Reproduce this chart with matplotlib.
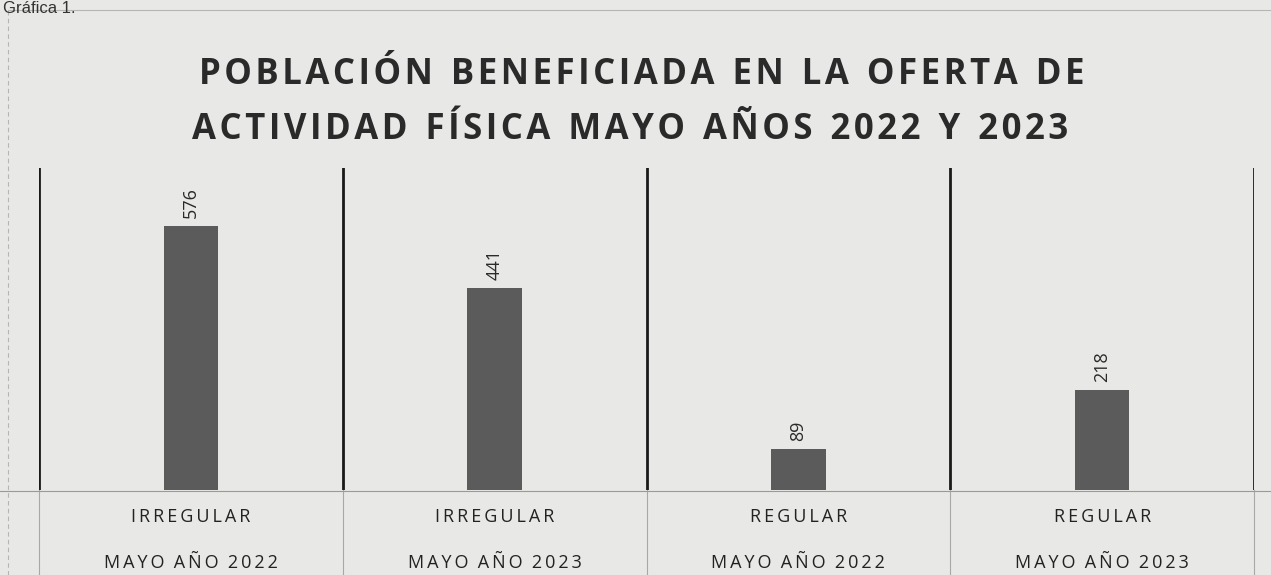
import matplotlib.pyplot as plt
from matplotlib.lines import Line2D

categories = ['IRREGULAR', 'IRREGULAR', 'REGULAR', 'REGULAR']
periods = ['MAYO AÑO 2022', 'MAYO AÑO 2023', 'MAYO AÑO 2022', 'MAYO AÑO 2023']
values = [576, 441, 89, 218]
title_lines = ['POBLACIÓN BENEFICIADA EN LA OFERTA DE', 'ACTIVIDAD FÍSICA MAYO AÑOS 2022 Y 2023']

plt.rcParams['font.family'] = ['Open Sans', 'DejaVu Sans']


def spaced(s, sep='\u200a', gap='  '):
    # espaciado entre letras y un hueco mayor entre palabras
    return gap.join(sep.join(w) for w in s.split(' '))


paper = '#e8e8e6'
fig = plt.figure(figsize=(12.71, 5.75), dpi=100, facecolor=paper)

# bordes de la hoja escaneada
fig.add_artist(Line2D([8 / 1271, 1], [1 - 10 / 575, 1 - 10 / 575], color='#b5b5b5', lw=0.8))
fig.add_artist(Line2D([8 / 1271, 8 / 1271], [0, 1 - 10 / 575], color='#b5b5b5', lw=0.8, ls=(0, (4, 3))))
fig.add_artist(Line2D([0, 1], [1 - 491 / 575, 1 - 491 / 575], color='#9a9a9a', lw=0.8))
fig.text(0.002, 0.999, 'Gráfica 1.', fontsize=12, color='#333333', ha='left', va='top',
         family=['Liberation Sans', 'DejaVu Sans'])

fig.text(0.505, 1 - 75 / 575, spaced(title_lines[0]),
         fontsize=25, fontweight='bold', color='#2a2a2a', ha='center', va='center')
fig.text(0.496, 1 - 130 / 575, spaced(title_lines[1]),
         fontsize=25, fontweight='bold', color='#2a2a2a', ha='center', va='center')

ax = fig.add_axes([39 / 1271, 1 - 490 / 575, 1215 / 1271, 322 / 575])
ax.set_facecolor('none')
x = list(range(len(values)))
ax.bar(x, values, width=0.18, color='#5b5b5b')
ax.set_xlim(-0.5, 3.5)
ax.set_ylim(0, 702.6)
for s in ax.spines.values():
    s.set_visible(False)
ax.set_xticks([])
ax.set_yticks([])

for b in [-0.5, 0.5, 1.5, 2.5, 3.5]:
    ax.axvline(b, ymin=0, ymax=1, color='#1a1a1a', lw=2)
    ax.axvline(b, ymin=-0.27, ymax=0, color='#a8a8a8', lw=0.8, clip_on=False)

for xi, v in zip(x, values):
    ax.text(xi, v + 18, str(v), rotation=90, ha='center', va='bottom', fontsize=13, color='#2a2a2a')

trans = ax.get_xaxis_transform()
for xi, c, p in zip(x, categories, periods):
    ax.text(xi, -0.084, spaced(c, '\u2009'), transform=trans, ha='center', va='center',
            fontsize=13, color='#222222')
    ax.text(xi, -0.227, spaced(p, '\u2009'), transform=trans, ha='center', va='center',
            fontsize=13, color='#222222')

fig.savefig('out.png', dpi=100, facecolor=paper)
